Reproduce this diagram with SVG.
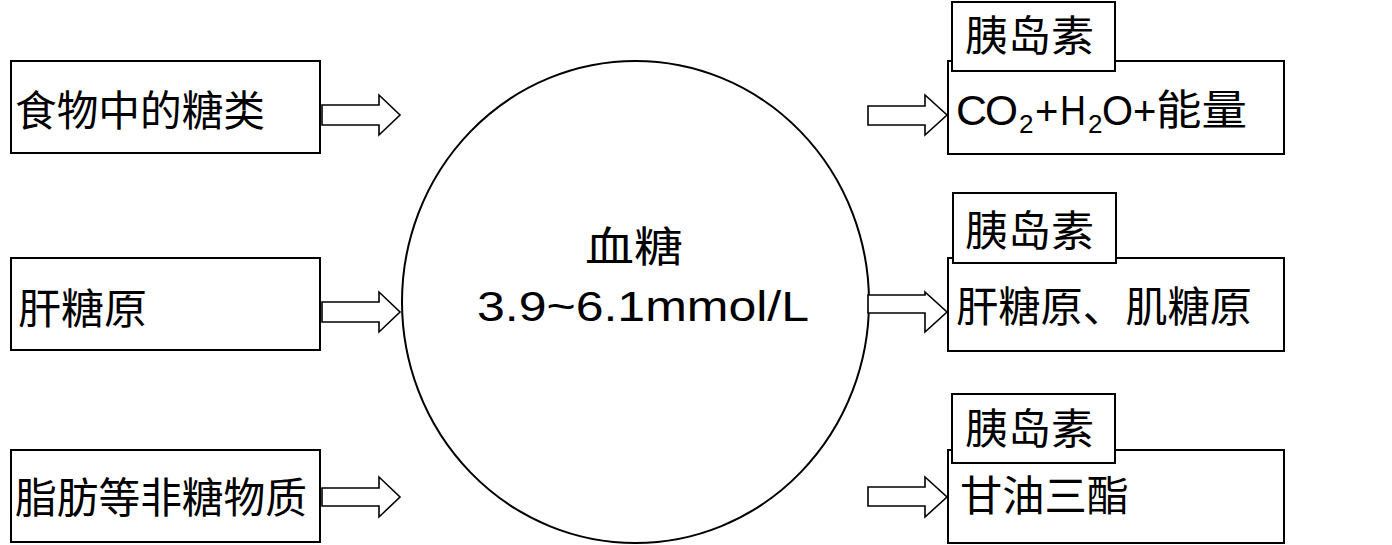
<svg xmlns="http://www.w3.org/2000/svg" width="1392" height="545" viewBox="0 0 1392 545">
<style>
.box{fill:#fff;stroke:#000;stroke-width:2}
.lbl{fill:#fff;stroke:#000;stroke-width:2}
.arr{fill:#fff;stroke:#000;stroke-width:1.6;stroke-linejoin:miter}
.t{font-family:"Liberation Sans","Noto Sans CJK SC",sans-serif;font-size:42px;fill:#000}
.c{font-family:"Noto Sans CJK SC",sans-serif;font-size:42px;fill:#000}
</style>
<rect width="1392" height="545" fill="#fff"/>
<g id="src-food">
<rect class="box" x="11" y="61" width="309" height="92"/>
<text class="c" x="15" y="126" textLength="250" lengthAdjust="spacingAndGlyphs">食物中的糖类</text>
</g>
<g id="src-liver">
<rect class="box" x="11" y="258" width="309" height="92"/>
<text class="c" x="18" y="324" textLength="129" lengthAdjust="spacingAndGlyphs">肝糖原</text>
</g>
<g id="src-fat">
<rect class="box" x="11" y="450" width="309" height="92"/>
<text class="c" x="15" y="513" textLength="292" lengthAdjust="spacingAndGlyphs">脂肪等非糖物质</text>
</g>
<g id="blood-sugar">
<ellipse cx="635.5" cy="302" rx="233.5" ry="241" fill="#fff" stroke="#000" stroke-width="2"/>
<text class="c" x="585" y="262" font-size="46" textLength="98" lengthAdjust="spacingAndGlyphs">血糖</text>
<text class="t" x="477" y="321" font-size="41" textLength="332" lengthAdjust="spacingAndGlyphs">3.9~6.1mmol/L</text>
</g>
<g id="dst-oxidation">
<rect class="box" x="948" y="61" width="336" height="93"/>
<rect class="lbl" x="952" y="2" width="163" height="69"/>
<text class="c" x="965" y="51" font-size="41" textLength="129" lengthAdjust="spacingAndGlyphs">胰岛素</text>
<text class="t" font-size="38" y="125"><tspan x="956" textLength="31" lengthAdjust="spacingAndGlyphs">C</tspan><tspan x="985" textLength="33" lengthAdjust="spacingAndGlyphs">O</tspan><tspan x="1019" y="133" font-size="26">2</tspan><tspan x="1035" y="125" font-size="40">+</tspan><tspan x="1060" textLength="26" lengthAdjust="spacingAndGlyphs">H</tspan><tspan x="1088" y="133" font-size="26">2</tspan><tspan x="1102" y="125" textLength="31" lengthAdjust="spacingAndGlyphs">O</tspan><tspan x="1133" font-size="40">+</tspan><tspan x="1156" font-family="Noto Sans CJK SC, sans-serif" font-size="42" textLength="91" lengthAdjust="spacingAndGlyphs">能量</tspan></text>
</g>
<g id="dst-glycogen">
<rect class="box" x="948" y="258" width="336" height="93"/>
<rect class="lbl" x="953" y="193" width="163" height="70"/>
<text class="c" x="965" y="246" font-size="41" textLength="129" lengthAdjust="spacingAndGlyphs">胰岛素</text>
<text class="c" x="956" y="322" textLength="296" lengthAdjust="spacingAndGlyphs">肝糖原、肌糖原</text>
</g>
<g id="dst-fat">
<rect class="box" x="948" y="450" width="336" height="93"/>
<rect class="lbl" x="952" y="394" width="163" height="69"/>
<text class="c" x="965" y="444" font-size="41" textLength="129" lengthAdjust="spacingAndGlyphs">胰岛素</text>
<text class="c" x="960" y="511" textLength="169" lengthAdjust="spacingAndGlyphs">甘油三酯</text>
</g>
<g id="connectors">
<polygon class="arr" points="322,105 379,105 379,95 400,115 379,135 379,125 322,125"/>
<polygon class="arr" points="322,302 379,302 379,292 400,312 379,332 379,322 322,322"/>
<polygon class="arr" points="322,488 379,488 379,477 400,497 379,517 379,506 322,506"/>
<polygon class="arr" points="868,106 925,106 925,95 947,115 925,135 925,125 868,125"/>
<polygon class="arr" points="868,295 925,295 925,292 947,312 925,332 925,313 868,313"/>
<polygon class="arr" points="868,487 925,487 925,477 947,497 925,517 925,506 868,506"/>
</g>
</svg>
